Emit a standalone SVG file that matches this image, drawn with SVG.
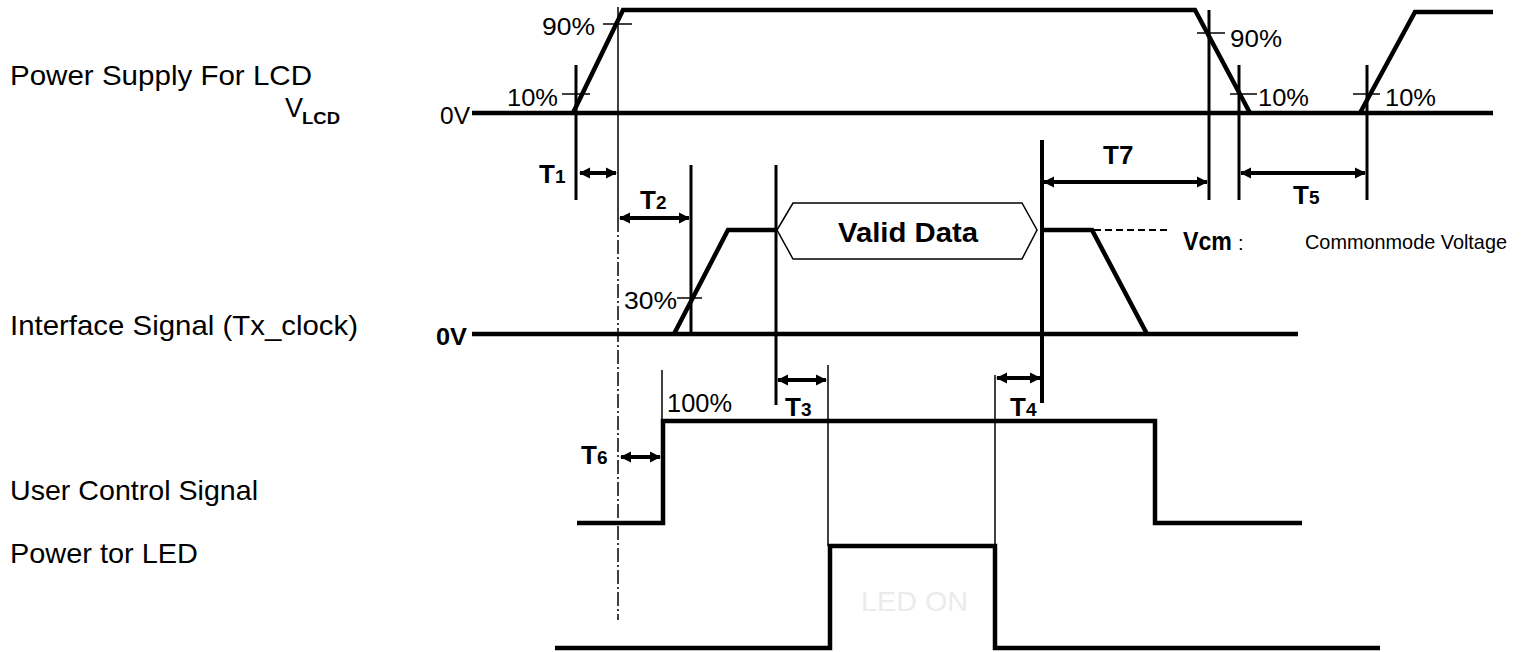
<svg xmlns="http://www.w3.org/2000/svg" width="1527" height="652" viewBox="0 0 1527 652">
<defs>
<style>
.sig{fill:none;stroke:#000;stroke-width:4.5;stroke-linejoin:miter}
.thin{fill:none;stroke:#000;stroke-width:1.5}
.med{fill:none;stroke:#000;stroke-width:3}
.arr{fill:none;stroke:#000;stroke-width:4;marker-start:url(#ah);marker-end:url(#ah)}
.t{font-family:"Liberation Sans",Arial,sans-serif;fill:#000}
.b{font-weight:bold}
</style>
<marker id="ah" viewBox="0 0 10 10" refX="9" refY="5" markerWidth="2.8" markerHeight="2.8" orient="auto-start-reverse" markerUnits="strokeWidth"><path d="M0,0 L10,5 L0,10 z" fill="#000"/></marker>
</defs>
<rect width="1527" height="652" fill="#fff"/>

<g id="labels">
<text class="t" x="10" y="85" font-size="28" textLength="302" lengthAdjust="spacingAndGlyphs">Power Supply For LCD</text>
<text class="t" x="285" y="117" font-size="27">V</text>
<text class="t b" x="302" y="124" font-size="17" textLength="38" lengthAdjust="spacingAndGlyphs">LCD</text>
<text class="t" x="10" y="335" font-size="28" textLength="348" lengthAdjust="spacingAndGlyphs">Interface Signal (Tx_clock)</text>
<text class="t" x="10" y="500" font-size="28" textLength="248" lengthAdjust="spacingAndGlyphs">User Control Signal</text>
<text class="t" x="10" y="563" font-size="28" textLength="188" lengthAdjust="spacingAndGlyphs">Power tor LED</text>
</g>

<g id="vlcd">
<line class="sig" x1="472" y1="113" x2="1493" y2="113"/>
<path class="sig" d="M573,113 L623,10 H1195 L1250,113"/>
<path class="sig" d="M1360,113 L1415,12 H1493"/>
<line class="thin" x1="603" y1="24" x2="632" y2="24"/>
<line class="thin" x1="562" y1="94" x2="590" y2="94"/>
<line class="thin" x1="1197" y1="33" x2="1225" y2="33"/>
<line class="thin" x1="1230" y1="94" x2="1257" y2="94"/>
<line class="thin" x1="1353" y1="94" x2="1380" y2="94"/>
<text class="t" x="440" y="124" font-size="24" textLength="30" lengthAdjust="spacingAndGlyphs">0V</text>
<text class="t" x="542" y="35" font-size="24" textLength="53" lengthAdjust="spacingAndGlyphs">90%</text>
<text class="t" x="507" y="106" font-size="24" textLength="51" lengthAdjust="spacingAndGlyphs">10%</text>
<text class="t" x="1230" y="47" font-size="24" textLength="52" lengthAdjust="spacingAndGlyphs">90%</text>
<text class="t" x="1258" y="106" font-size="24" textLength="51" lengthAdjust="spacingAndGlyphs">10%</text>
<text class="t" x="1385" y="106" font-size="24" textLength="51" lengthAdjust="spacingAndGlyphs">10%</text>
</g>

<g id="interface">
<line class="sig" x1="472" y1="334" x2="1298" y2="334"/>
<path class="sig" d="M674,334 L728,230 H777"/>
<path class="sig" d="M1042,230 H1092 L1147,334"/>
<path class="thin" d="M777,230 L793,203 H1022 L1037,230 L1022,259 H793 Z"/>
<line class="thin" x1="677" y1="298" x2="702" y2="298"/>
<line x1="1094" y1="230" x2="1168" y2="230" stroke="#000" stroke-width="2" stroke-dasharray="7 4"/>
<text class="t b" x="436" y="345" font-size="24" textLength="31" lengthAdjust="spacingAndGlyphs">0V</text>
<text class="t" x="624" y="309" font-size="24" textLength="53" lengthAdjust="spacingAndGlyphs">30%</text>
<text class="t b" x="838" y="242" font-size="27" textLength="140" lengthAdjust="spacingAndGlyphs">Valid Data</text>
<text class="t b" x="1183" y="250" font-size="25" textLength="49" lengthAdjust="spacingAndGlyphs">Vcm</text>
<text class="t" x="1238" y="250" font-size="20">:</text>
<text class="t" x="1305" y="249" font-size="21" textLength="202" lengthAdjust="spacingAndGlyphs">Commonmode Voltage</text>
</g>

<g id="user-control">
<path class="sig" d="M577,523 H663 V421 H1155 V523 H1302"/>
<text class="t" x="667" y="412" font-size="25" textLength="65" lengthAdjust="spacingAndGlyphs">100%</text>
</g>

<g id="led">
<path class="sig" d="M555,648 H830 V546 H995 V648 H1380"/>
<text class="t" x="861" y="611" font-size="28" style="fill:#ebebeb" textLength="107" lengthAdjust="spacingAndGlyphs">LED ON</text>
</g>

<g id="connectors">
<line class="med" x1="576" y1="65" x2="576" y2="200"/>
<line class="thin" x1="618" y1="7" x2="618" y2="218"/>
<line class="thin" x1="618" y1="218" x2="618" y2="620" stroke-dasharray="14 3 2 3"/>
<line class="med" x1="691" y1="165" x2="691" y2="334"/>
<line class="med" x1="1209" y1="10" x2="1209" y2="200" stroke-width="2.5"/>
<line class="med" x1="1239" y1="65" x2="1239" y2="200"/>
<line class="med" x1="1367" y1="65" x2="1367" y2="200"/>
<line class="med" x1="776" y1="165" x2="776" y2="405"/>
<line class="sig" x1="1042" y1="140" x2="1042" y2="403" style="stroke-width:4"/>
<line class="thin" x1="662" y1="370" x2="662" y2="421"/>
<line class="thin" x1="828" y1="365" x2="828" y2="546"/>
<line class="thin" x1="995" y1="375" x2="995" y2="546"/>

<line class="arr" x1="580" y1="173" x2="616" y2="173"/>
<line class="arr" x1="620" y1="218" x2="689" y2="218"/>
<line class="arr" x1="778" y1="380" x2="826" y2="380"/>
<line class="arr" x1="997" y1="378" x2="1040" y2="378"/>
<line class="arr" x1="1241" y1="173" x2="1365" y2="173"/>
<line class="arr" x1="621" y1="457" x2="660" y2="457"/>
<line class="arr" x1="1044" y1="182" x2="1207" y2="182"/>

<text class="t b" x="539" y="183" font-size="26">T<tspan font-size="19">1</tspan></text>
<text class="t b" x="640" y="209" font-size="26">T<tspan font-size="19">2</tspan></text>
<text class="t b" x="785" y="416" font-size="26">T<tspan font-size="19">3</tspan></text>
<text class="t b" x="1010" y="416" font-size="26">T<tspan font-size="19">4</tspan></text>
<text class="t b" x="1293" y="204" font-size="26">T<tspan font-size="19">5</tspan></text>
<text class="t b" x="581" y="464" font-size="26">T<tspan font-size="19">6</tspan></text>
<text class="t b" x="1103" y="164" font-size="26">T7</text>
</g>
</svg>
